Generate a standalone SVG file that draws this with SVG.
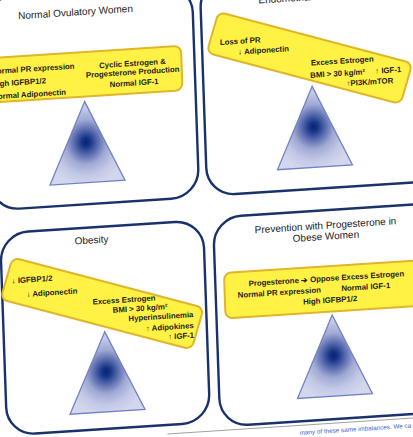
<svg xmlns="http://www.w3.org/2000/svg" width="413" height="437" viewBox="0 0 413 437">
<defs>
<radialGradient id="triGrad" cx="0.5" cy="0.5" r="0.55">
<stop offset="0" stop-color="#08246e"/>
<stop offset="0.1" stop-color="#143485"/>
<stop offset="0.28" stop-color="#5669ad"/>
<stop offset="0.5" stop-color="#a0a9d4"/>
<stop offset="0.75" stop-color="#c3c8e6"/>
<stop offset="1" stop-color="#d3d7ed"/>
</radialGradient>
<style>
.panel{fill:#fff;stroke:#1a326c;stroke-width:2.4}
.box{fill:#fff245;stroke:#e0b52a;stroke-width:2}
.tri{fill:url(#triGrad);stroke:#7083c6;stroke-width:1.3}
.title{font-family:"Liberation Sans",Arial,sans-serif;font-size:10px;fill:#222}
.t{font-family:"Liberation Sans",Arial,sans-serif;font-size:7.8px;font-weight:bold;fill:#1d1d1d}
.mid{text-anchor:middle}
.end{text-anchor:end}
.cap{font-family:"Liberation Sans",Arial,sans-serif;font-size:6.3px;fill:#3f5fd0}
.sep{stroke:#8a8a8a;stroke-width:0.8}
</style>
</defs>
<rect width="413" height="437" fill="#fff"/>
<g transform="matrix(1,-0.065,0.035,1,-7.63,13.39)">
<g id="panel-normal">
<rect class="panel" x="-8" y="-16" width="208" height="212.5" rx="28"/>
<text class="title mid" x="83" y="7.5">Normal Ovulatory Women</text>
<polygon class="tri" points="89,94 51.5,175 126.5,175"/>
<rect class="box" x="-14" y="44.5" width="201" height="44.5" rx="7"/>
<text class="t" x="-3" y="60.5">Normal PR expression</text>
<text class="t" x="-3" y="73.2">High IGFBP1/2</text>
<text class="t" x="-3" y="85.8">Normal Adiponectin</text>
<text class="t mid" x="138" y="61.6">Cyclic Estrogen &amp;</text>
<text class="t mid" x="138" y="70.3">Progesterone Production</text>
<text class="t mid" x="139" y="81.2">Normal IGF-1</text>
</g>
<g id="panel-cancer">
<rect class="panel" x="208" y="-20" width="240" height="216" rx="28"/>
<text class="title mid" x="310" y="7.5">Endometrial Cancer</text>
<polygon class="tri" points="316.5,93.5 279,174.5 354,174.5"/>
<rect class="box" x="205" y="46" width="202" height="42" rx="7" transform="rotate(18.4 316.5 93.5)"/>
<text class="t" x="226" y="46.3">Loss of PR</text>
<text class="t" x="244" y="57">↓ Adiponectin</text>
<text class="t" x="316" y="72.7">Excess Estrogen</text>
<text class="t" x="315" y="85">BMI &gt; 30 kg/m²</text>
<text class="t" x="380" y="85">↑ IGF-1</text>
<text class="t" x="351" y="95.5">↑PI3K/mTOR</text>
</g>
<g id="panel-obesity">
<rect class="panel" x="0" y="220" width="203" height="202" rx="28"/>
<text class="title mid" x="91" y="236">Obesity</text>
<polygon class="tri" points="101,325 63.5,405 138.5,405"/>
<rect class="box" x="-9" y="277" width="199" height="43" rx="7" transform="rotate(18.3 101 325)"/>
<text class="t" x="10" y="270.7">↓ IGFBP1/2</text>
<text class="t" x="24.4" y="285">↓ Adiponectin</text>
<text class="t" x="90" y="297">Excess Estrogen</text>
<text class="t" x="109.7" y="306.5">BMI &gt; 30 kg/m²</text>
<text class="t end" x="190" y="316">Hyperinsulinemia</text>
<text class="t end" x="190" y="327">↑ Adipokines</text>
<text class="t end" x="190" y="336.7">↑ IGF-1</text>
</g>
<g id="panel-prevention">
<rect class="panel" x="213" y="218" width="235" height="209" rx="28"/>
<text class="title mid" x="325" y="236.5">Prevention with Progesterone in</text>
<text class="title mid" x="325" y="247.5">Obese Women</text>
<polygon class="tri" points="328.5,323 291,404 366,404"/>
<rect class="box" x="222" y="274" width="210" height="45.5" rx="7"/>
<text class="t mid" x="324" y="288.8">Progesterone ➔ Oppose Excess Estrogen</text>
<text class="t mid" x="276.5" y="299.7">Normal PR expression</text>
<text class="t mid" x="363" y="299.7">Normal IGF-1</text>
<text class="t mid" x="327" y="310.6">High IGFBP1/2</text>
</g>
<line class="sep" x1="160" y1="431" x2="430" y2="431"/>
<text class="cap" x="292" y="440.5">many of these same imbalances. We ca</text>
</g>
</svg>
